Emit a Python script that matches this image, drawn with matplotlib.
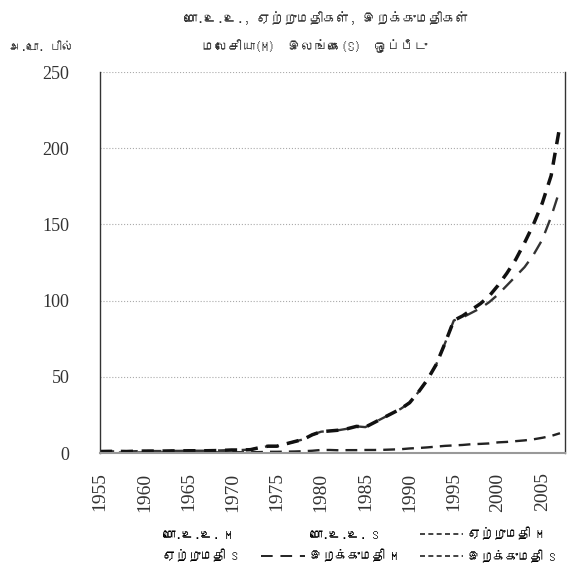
import matplotlib
matplotlib.use("Agg")
import matplotlib.pyplot as plt
from matplotlib import font_manager
from matplotlib.ft2font import FT2Font
from matplotlib.lines import Line2D

# ---------------- data ----------------
years = list(range(1955, 2008))
exports_m = [1.0, 1.1, 1.1, 1.0, 1.2, 1.3, 1.3, 1.3, 1.4, 1.4,
             1.5, 1.5, 1.5, 1.6, 1.8, 2.0, 2.0, 2.2, 3.5, 4.5,
             4.5, 6.0, 7.5, 9.0, 12.0, 14.0, 14.5, 15.0, 16.0, 17.5,
             17.0, 20.0, 23.0, 26.0, 29.0, 33.0, 40.0, 48.0, 58.0, 72.0,
             87.0, 90.0, 94.0, 98.0, 103.0, 110.0, 118.0, 127.0, 138.0, 150.0,
             164.0, 182.0, 215.0]
imports_m = exports_m[:41] + [89.0, 92.0, 95.0, 99.0, 104.0, 110.0, 116.0,
                              122.0, 130.0, 140.0, 155.0, 173.0]
imports_s = [0.3, 0.3, 0.3, 0.3, 0.3, 0.4, 0.4, 0.4, 0.4, 0.4,
             0.4, 0.4, 0.4, 0.4, 0.5, 0.5, 0.5, 0.5, 0.6, 0.8,
             0.8, 0.9, 1.0, 1.2, 1.5, 2.0, 2.0, 1.8, 1.9, 1.9,
             2.0, 2.0, 2.1, 2.3, 2.5, 3.0, 3.3, 3.7, 4.2, 4.7,
             5.0, 5.3, 5.8, 6.0, 6.3, 7.0, 7.3, 7.8, 8.3, 9.0,
             10.0, 11.2, 13.0]
xtick_years = list(range(1955, 2006, 5))
yticks = [0, 50, 100, 150, 200, 250]

title_line1 = "மொ.உ.உ., ஏற்றுமதிகள், இறக்குமதிகள்"
title_line2 = "மலேசியா(M)  இலங்கை(S)  ஒப்பீடு"
ylabel_text = "அ.டொ. பில்"
legend_labels = ["மொ.உ.உ. M", "மொ.உ.உ. S", "ஏற்றுமதி M",
                 "ஏற்றுமதி S", "இறக்குமதி M", "இறக்குமதி S"]

# ---------------- fonts ----------------
tamil_family = None
for f in font_manager.fontManager.ttflist:
    try:
        cm = FT2Font(f.fname).get_charmap()
        if 0x0BA4 in cm and 0x0B95 in cm:
            tamil_family = f.name
            break
    except Exception:
        pass
tfam = [tamil_family, "DejaVu Sans"] if tamil_family else ["DejaVu Sans"]
serif = "Liberation Serif"

# ---------------- figure ----------------
fig = plt.figure(figsize=(5.78, 5.67), dpi=100)
ax = fig.add_axes([0.173, 0.201, 0.805, 0.672])

ax.plot(years, imports_s, color="#222222", lw=1.7, ls=(0, (5, 3)))
ax.plot(years, imports_m, color="#333333", lw=1.7, ls=(0, (6, 4)))
ax.plot(years, exports_m, color="#111111", lw=2.5, ls=(0, (3.5, 2.5)))

ax.set_xlim(1955, 2007.6)
ax.set_ylim(0, 250)
ax.set_yticks(yticks)
ax.set_yticklabels([str(v) for v in yticks], fontfamily=serif, fontsize=13, color="#333333")
ax.set_xticks(xtick_years)
ax.set_xticklabels([str(y) for y in xtick_years], rotation=90, fontfamily=serif,
                   fontsize=14, color="#333333")
ax.tick_params(axis="y", length=0, pad=22)
ax.tick_params(axis="x", length=0, pad=14)
ax.grid(axis="y", color="#aaaaaa", ls=":", lw=0.8)
ax.spines["top"].set_visible(False)
for s in ["left", "right"]:
    ax.spines[s].set_color("#333333")
    ax.spines[s].set_linewidth(1.0)
ax.spines["bottom"].set_color("#999999")
ax.spines["bottom"].set_linewidth(1.5)

fig.text(0.565, 0.968, title_line1, ha="center", va="center", fontfamily=tfam,
         fontsize=9.5, color="#333333")
fig.text(0.545, 0.918, title_line2, ha="center", va="center", fontfamily=tfam,
         fontsize=9.5, color="#333333")
fig.text(0.015, 0.918, ylabel_text, ha="left", va="center", fontfamily=tfam,
         fontsize=8.5, color="#333333")

h_gdp_m = Line2D([], [], color="none")
h_gdp_s = Line2D([], [], color="none")
h_exp_m = Line2D([], [], color="#222222", lw=1.2, ls=(0, (3, 2)))
h_exp_s = Line2D([], [], color="none")
h_imp_m = Line2D([], [], color="#222222", lw=1.4, ls=(0, (6, 4)))
h_imp_s = Line2D([], [], color="#222222", lw=1.2, ls=(0, (3, 2)))
handles = [h_gdp_m, h_exp_s, h_gdp_s, h_imp_m, h_exp_m, h_imp_s]
labels = [legend_labels[0], legend_labels[3], legend_labels[1],
          legend_labels[4], legend_labels[2], legend_labels[5]]
fig.legend(handles, labels, ncol=3, loc="lower center", bbox_to_anchor=(0.58, -0.012),
           frameon=False, prop={"family": tfam, "size": 9}, handlelength=3.5,
           columnspacing=1.8, labelspacing=0.7, handletextpad=0.4)

fig.savefig("out.png", dpi=100)
